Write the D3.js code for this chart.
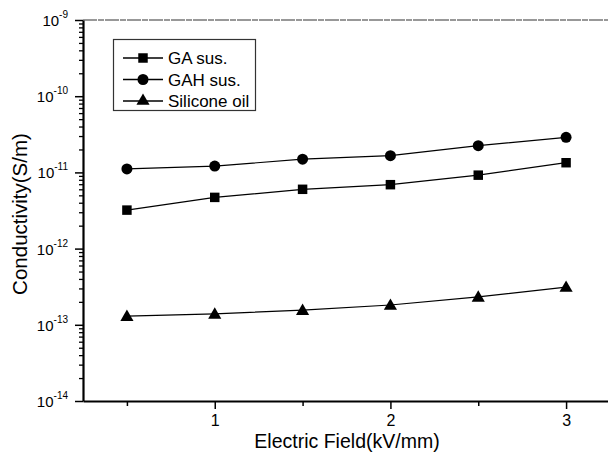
<!DOCTYPE html>
<html>
<head>
<meta charset="utf-8">
<script src="https://cdn.jsdelivr.net/npm/d3@7"></script>
<style>
  body { margin: 0; background: #fff; }
  svg { display: block; font-family: 'Liberation Sans', Arial, sans-serif; }
</style>
</head>
<body>
<script>
const fields = [0.5, 1, 1.5, 2, 2.5, 3];
const gaSus = [3.2e-12, 4.7e-12, 6.0e-12, 6.9e-12, 9.2e-12, 1.34e-11];
const gahSus = [1.11e-11, 1.21e-11, 1.49e-11, 1.66e-11, 2.24e-11, 2.89e-11];
const siliconeOil = [1.3e-13, 1.39e-13, 1.56e-13, 1.82e-13, 2.32e-13, 3.13e-13];
const seriesNames = ['GA sus.', 'GAH sus.', 'Silicone oil'];
const seriesSymbols = ['square', 'circle', 'triangle'];
const xMajorTicks = [1, 2, 3];
const xMinorTicks = [0.5, 1.5, 2.5];
const yDecades = [-14, -13, -12, -11, -10, -9];

const width = 608;
const height = 468;
const margin = {
  top: 20, right: -2, bottom: 67, left: 83,
};

const x = d3.scaleLinear()
  .domain([0.25, 3.25])
  .range([margin.left, width - margin.right]);

const y = d3.scaleLog()
  .domain([1e-14, 1e-9])
  .range([height - margin.bottom, margin.top]);

const svg = d3.select('body').append('svg')
  .attr('width', width)
  .attr('height', height);

const symbolType = {
  square: d3.symbolSquare,
  circle: d3.symbolCircle,
  triangle: d3.symbolTriangle,
};
const symbolSize = { square: 90, circle: 95, triangle: 75 };

// axes
const bottomY = y(1e-14);
const topY = y(1e-9);

svg.append('line')
  .attr('x1', margin.left).attr('x2', width)
  .attr('y1', topY).attr('y2', topY)
  .attr('stroke', '#777')
  .attr('stroke-width', 1.3)
  .attr('stroke-dasharray', '14,1,6,1');

const xAxis = svg.append('g')
  .attr('transform', `translate(0,${bottomY})`)
  .call(d3.axisBottom(x).tickValues(xMajorTicks).tickSize(8).tickSizeOuter(0).tickPadding(6)
    .tickFormat(d3.format('d')));
xAxis.select('.domain').attr('stroke-width', 2);
xAxis.selectAll('.tick line').attr('stroke-width', 1.5);
xAxis.selectAll('.tick text')
  .style('font-size', '16px')
  .attr('fill', '#000');

svg.append('g')
  .attr('transform', `translate(0,${bottomY})`)
  .call(d3.axisBottom(x).tickValues(xMinorTicks).tickSize(5).tickFormat(''))
  .call(g => g.select('.domain').remove())
  .selectAll('line').attr('stroke-width', 1.5);

const minorY = [];
yDecades.slice(0, -1).forEach((e) => {
  for (let k = 2; k <= 9; k += 1) minorY.push(k * 10 ** e);
});

svg.append('g')
  .attr('transform', `translate(${margin.left},0)`)
  .call(d3.axisLeft(y).tickValues(minorY).tickSize(4).tickFormat(''))
  .call(g => g.select('.domain').remove())
  .selectAll('line').attr('stroke-width', 1.3);

const yAxis = svg.append('g')
  .attr('transform', `translate(${margin.left},0)`)
  .call(d3.axisLeft(y).tickValues(yDecades.map(e => 10 ** e)).tickSize(8).tickSizeOuter(0)
    .tickFormat(''));
yAxis.select('.domain').attr('stroke-width', 2.2);
yAxis.selectAll('.tick line').attr('stroke-width', 1.5);

const yLabels = svg.append('g').selectAll('text')
  .data(yDecades)
  .enter().append('text')
  .attr('x', 68)
  .attr('y', d => y(10 ** d) + 6)
  .attr('text-anchor', 'end')
  .style('font-size', '15px');
yLabels.append('tspan').text('10');
yLabels.append('tspan')
  .attr('dy', -8)
  .style('font-size', '10px')
  .text(d => `${d}`);

// axis titles
svg.append('text')
  .attr('x', 347)
  .attr('y', 448)
  .attr('text-anchor', 'middle')
  .style('font-size', '19.5px')
  .text('Electric Field(kV/mm)');

svg.append('text')
  .attr('transform', `translate(27,${214}) rotate(-90)`)
  .attr('text-anchor', 'middle')
  .style('font-size', '20.5px')
  .text('Conductivity(S/m)');

// series
const seriesData = [gaSus, gahSus, siliconeOil];
const line = d3.line()
  .x(d => x(d.field))
  .y(d => y(d.value));

seriesData.forEach((values, i) => {
  const pts = fields.map((f, j) => ({ field: f, value: values[j] }));
  const sym = seriesSymbols[i];
  svg.append('path')
    .datum(pts)
    .attr('fill', 'none')
    .attr('stroke', '#000')
    .attr('stroke-width', 1.2)
    .attr('d', line);
  svg.append('g').selectAll('path')
    .data(pts)
    .enter().append('path')
    .attr('d', d3.symbol().type(symbolType[sym]).size(symbolSize[sym]))
    .attr('transform', d => `translate(${x(d.field)},${y(d.value) + (sym === 'triangle' ? 1 : 0)})`)
    .attr('fill', '#000');
});

// legend
const legend = svg.append('g');
legend.append('rect')
  .attr('x', 113.5).attr('y', 39.5)
  .attr('width', 142).attr('height', 71)
  .attr('fill', '#fff')
  .attr('stroke', '#333')
  .attr('stroke-width', 1.2);

const rows = legend.selectAll('g.row')
  .data(seriesNames)
  .enter().append('g')
  .attr('class', 'row')
  .attr('transform', (d, i) => `translate(0,${58 + i * 21.5})`);
rows.append('line')
  .attr('x1', 123).attr('x2', 163)
  .attr('stroke', '#000')
  .attr('stroke-width', 1.3);
rows.append('path')
  .attr('d', (d, i) => d3.symbol().type(symbolType[seriesSymbols[i]])
    .size(symbolSize[seriesSymbols[i]])())
  .attr('transform', 'translate(143,0)')
  .attr('fill', '#000');
rows.append('text')
  .attr('x', 168)
  .attr('y', 6)
  .style('font-size', '17px')
  .text(d => d);
</script>
</body>
</html>
